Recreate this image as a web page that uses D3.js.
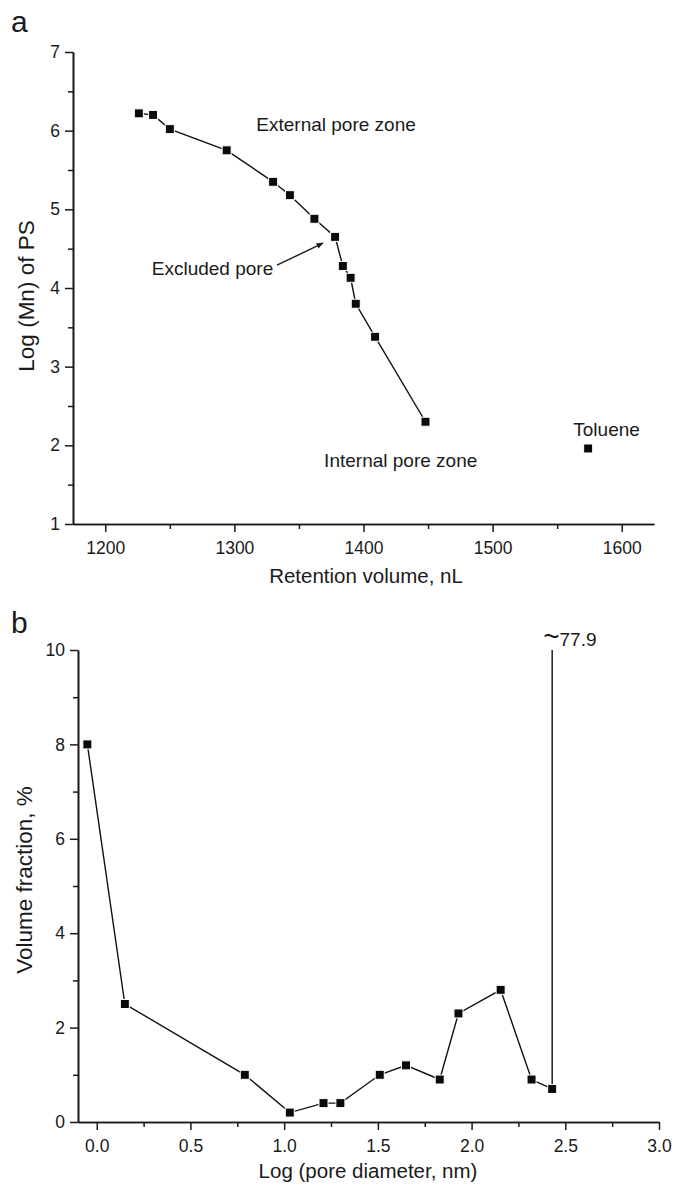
<!DOCTYPE html>
<html>
<head>
<meta charset="utf-8">
<script src="https://cdn.jsdelivr.net/npm/d3@7"></script>
<style>
    body { margin: 0; background: #fff; }
    svg { display: block; }
    text { font-family: "Liberation Sans", Arial, Helvetica, sans-serif; fill: #1a1a1a; }
    .axis path, .axis line { stroke: #1a1a1a; stroke-width: 1.5; }
</style>
</head>
<body>
<div id="chart"></div>
<script>
// panel a: polystyrene standards
var retentionVol = [1226, 1237, 1250, 1294, 1330, 1343, 1362, 1378, 1384, 1390, 1394, 1409, 1448];
var logMn = [6.22, 6.20, 6.02, 5.75, 5.35, 5.18, 4.88, 4.65, 4.28, 4.13, 3.80, 3.38, 2.30];
var toluene = { vol: 1574, logMn: 1.96 };
var aXTicks = [1200, 1300, 1400, 1500, 1600];
var aXMinor = [1250, 1350, 1450, 1550];
var aYTicks = [1, 2, 3, 4, 5, 6, 7];
var aYMinor = [1.5, 2.5, 3.5, 4.5, 5.5, 6.5];

// panel b: pore size distribution
var poreLog = [-0.05, 0.15, 0.79, 1.03, 1.21, 1.30, 1.51, 1.65, 1.83, 1.93, 2.155, 2.32, 2.43, 2.43];
var volFraction = [8.0, 2.5, 1.0, 0.2, 0.4, 0.4, 1.0, 1.2, 0.9, 2.3, 2.8, 0.9, 0.7, 77.9];
var bXTicks = [0, 0.5, 1.0, 1.5, 2.0, 2.5, 3.0];
var bXMinor = [0.25, 0.75, 1.25, 1.75, 2.25, 2.75];
var bYTicks = [0, 2, 4, 6, 8, 10];
var bYMinor = [1, 3, 5, 7, 9];

var W = 675, H = 1189;
var svg = d3.select("#chart").append("svg")
    .attr("width", W)
    .attr("height", H);

svg.append("defs").append("marker")
    .attr("id", "arrow")
    .attr("viewBox", "0 0 10 10")
    .attr("refX", 9).attr("refY", 5)
    .attr("markerWidth", 9).attr("markerHeight", 7)
    .attr("markerUnits", "userSpaceOnUse")
    .attr("orient", "auto")
    .append("path")
    .attr("d", "M0,1 L10,5 L0,9 z")
    .style("fill", "#1a1a1a");

function drawAxes(g, x, y, xt, xm, yt, ym, xfmt) {
    var h = y.range()[0];
    g.append("g").attr("class", "axis")
        .attr("transform", "translate(0," + h + ")")
        .call(d3.axisBottom(x).tickValues(xm).tickSize(5).tickSizeOuter(0).tickFormat(""));
    g.append("g").attr("class", "axis")
        .attr("transform", "translate(0," + h + ")")
        .call(d3.axisBottom(x).tickValues(xt).tickSize(8).tickPadding(10).tickSizeOuter(0).tickFormat(xfmt))
        .selectAll("text").style("font-size", "17.5px");
    var x0 = x.range()[0];
    g.append("g").attr("class", "axis")
        .attr("transform", "translate(" + x0 + ",0)")
        .call(d3.axisLeft(y).tickValues(ym).tickSize(5).tickSizeOuter(0).tickFormat(""));
    g.append("g").attr("class", "axis")
        .attr("transform", "translate(" + x0 + ",0)")
        .call(d3.axisLeft(y).tickValues(yt).tickSize(8).tickPadding(5).tickSizeOuter(0).tickFormat(d3.format("d")))
        .selectAll("text").style("font-size", "17.5px");
    g.selectAll(".domain").style("stroke-width", 1.6);
}

function drawSeries(g, pts, x, y) {
    var line = d3.line()
        .x(function (d) { return x(d[0]); })
        .y(function (d) { return y(d[1]); });
    g.append("path")
        .datum(pts)
        .attr("d", line)
        .style("fill", "none")
        .style("stroke", "#111")
        .style("stroke-width", 1.4);
    g.selectAll(".pt")
        .data(pts)
        .enter().append("rect")
        .attr("class", "pt")
        .attr("x", function (d) { return x(d[0]) - 4.5; })
        .attr("y", function (d) { return y(d[1]) - 4.5; })
        .attr("width", 9)
        .attr("height", 9)
        .style("fill", "#0a0a0a")
        .style("stroke", "#fff")
        .style("stroke-width", 1);
}

// ---------- panel a ----------
var xa = d3.scaleLinear().domain([1175, 1625]).range([73, 654]);
var ya = d3.scaleLinear().domain([1, 7]).range([524, 52]);
var ga = svg.append("g");

drawAxes(ga, xa, ya, aXTicks, aXMinor, aYTicks, aYMinor, d3.format("d"));

var ptsA = retentionVol.map(function (v, i) { return [v, logMn[i]]; });
drawSeries(ga, ptsA, xa, ya);
drawSeries(ga.append("g"), [[toluene.vol, toluene.logMn]], xa, ya);

var notesA = [
    { text: "External pore zone", x: 1317, y: 5.99 },
    { text: "Excluded pore", x: 1236, y: 4.17 },
    { text: "Internal pore zone", x: 1369.5, y: 1.725 },
    { text: "Toluene", x: 1562.5, y: 2.12 }
];
ga.selectAll(".note")
    .data(notesA)
    .enter().append("text")
    .attr("class", "note")
    .attr("x", function (d) { return xa(d.x); })
    .attr("y", function (d) { return ya(d.y); })
    .style("font-size", "19px")
    .text(function (d) { return d.text; });

ga.append("line")
    .attr("x1", xa(1333)).attr("y1", ya(4.29))
    .attr("x2", xa(1368.6)).attr("y2", ya(4.57))
    .style("stroke", "#1a1a1a")
    .style("stroke-width", 1.4)
    .attr("marker-end", "url(#arrow)");

ga.append("text")
    .attr("x", 366).attr("y", 583)
    .style("text-anchor", "middle")
    .style("font-size", "20.5px")
    .text("Retention volume, nL");

ga.append("text")
    .attr("transform", "translate(34,296)rotate(-90)")
    .style("text-anchor", "middle")
    .style("font-size", "22.5px")
    .text("Log (Mn) of PS");

ga.append("text")
    .attr("x", 11).attr("y", 32)
    .style("font-size", "30px")
    .text("a");

// ---------- panel b ----------
var xb = d3.scaleLinear().domain([-0.1, 3.0]).range([78, 659]);
var yb = d3.scaleLinear().domain([0, 10]).range([1122, 650]);
var gb = svg.append("g");

drawAxes(gb, xb, yb, bXTicks, bXMinor, bYTicks, bYMinor, d3.format(".1f"));

gb.append("clipPath").attr("id", "clipb")
    .append("rect")
    .attr("x", xb.range()[0]).attr("y", yb.range()[1])
    .attr("width", xb.range()[1] - xb.range()[0])
    .attr("height", yb.range()[0] - yb.range()[1] + 10);

var ptsB = poreLog.map(function (v, i) { return [v, volFraction[i]]; });
drawSeries(gb.append("g").attr("clip-path", "url(#clipb)"), ptsB, xb, yb);

var peak = ptsB[ptsB.length - 1];
var peakLbl = gb.append("text")
    .attr("x", xb(peak[0]) - 9)
    .attr("y", yb(10) - 4);
peakLbl.append("tspan").style("font-size", "28px").text("~");
peakLbl.append("tspan").style("font-size", "19px").text(peak[1].toFixed(1));

gb.append("text")
    .attr("x", 368).attr("y", 1178)
    .style("text-anchor", "middle")
    .style("font-size", "20.5px")
    .text("Log (pore diameter, nm)");

gb.append("text")
    .attr("transform", "translate(32,880)rotate(-90)")
    .style("text-anchor", "middle")
    .style("font-size", "22.5px")
    .text("Volume fraction, %");

gb.append("text")
    .attr("x", 11).attr("y", 633)
    .style("font-size", "30px")
    .text("b");
</script>
</body>
</html>
